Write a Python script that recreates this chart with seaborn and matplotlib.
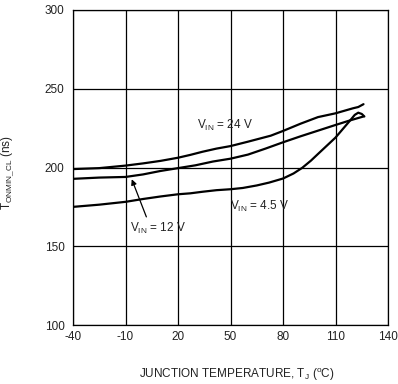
import matplotlib
matplotlib.use("Agg")
import matplotlib.pyplot as plt
import seaborn as sns
import pandas as pd

# Data
temp_24v = [-40, -25, -10, 0, 10, 20, 27, 34, 42, 50, 60, 73, 80, 90, 100, 110, 115, 120, 123, 126]
ton_24v = [199.0, 199.6, 201.2, 202.6, 204.2, 206.2, 208.0, 210.0, 212.0, 213.6, 216.4, 220.2, 223.2, 227.8, 232.0, 234.4, 236.0, 237.6, 238.4, 240.2]

temp_12v = [-40, -25, -10, 0, 10, 20, 30, 40, 50, 60, 70, 80, 90, 100, 110, 118, 126]
ton_12v = [192.8, 193.6, 194.0, 195.6, 197.8, 199.6, 201.4, 203.8, 205.6, 208.2, 212.0, 216.0, 219.8, 223.4, 227.0, 229.8, 232.4]

temp_45v = [-40, -25, -10, 0, 10, 20, 27, 34, 42, 50, 57, 65, 72, 80, 86, 91, 96, 100, 105, 110, 114, 118, 121, 123, 125, 126.5]
ton_45v = [175.0, 176.4, 178.2, 180.0, 181.6, 183.0, 183.6, 184.6, 185.6, 186.2, 187.0, 188.6, 190.4, 193.0, 196.2, 199.8, 204.4, 208.6, 213.8, 219.0, 224.2, 229.4, 233.4, 234.8, 234.0, 232.4]

series_labels = ["24 V", "12 V", "4.5 V"]
x_ticks = [-40, -10, 20, 50, 80, 110, 140]
y_ticks = [100, 150, 200, 250, 300]

df = pd.concat([
    pd.DataFrame({"T": temp_24v, "Ton": ton_24v, "VIN": series_labels[0]}),
    pd.DataFrame({"T": temp_12v, "Ton": ton_12v, "VIN": series_labels[1]}),
    pd.DataFrame({"T": temp_45v, "Ton": ton_45v, "VIN": series_labels[2]}),
], ignore_index=True)

sns.set_theme(style="white")
plt.rcParams["font.family"] = ["Liberation Sans", "DejaVu Sans"]
plt.rcParams["mathtext.fontset"] = "custom"
plt.rcParams["mathtext.rm"] = "Liberation Sans"
plt.rcParams["mathtext.it"] = "Liberation Sans"

fig = plt.figure(figsize=(3.98, 3.84), dpi=100)
ax = fig.add_axes([73 / 398, 1 - 325 / 384, 315 / 398, 315 / 384])

sns.lineplot(data=df, x="T", y="Ton", hue="VIN", palette=["black"] * 3,
             sort=False, estimator=None, linewidth=1.6, legend=False, ax=ax)

ax.set_xlim(-40, 140)
ax.set_ylim(100, 300)
ax.set_xticks(x_ticks)
ax.set_yticks(y_ticks)
ax.set_xticklabels([str(v) for v in x_ticks])
ax.set_yticklabels([str(v) for v in y_ticks])
ax.tick_params(axis="both", length=0, labelsize=8.5, colors="#222222")
ax.tick_params(axis="x", pad=4)
ax.tick_params(axis="y", pad=6)
ax.grid(True, color="black", linewidth=0.9)
for s in ax.spines.values():
    s.set_visible(True)
    s.set_color("black")
    s.set_linewidth(0.9)

ax.set_xlabel(r"JUNCTION TEMPERATURE, T$_\mathregular{J}$ ($^\mathregular{o}$C)",
              fontsize=8.5, color="#222222")
ax.xaxis.set_label_coords((237 - 73) / 315, -0.13)
ax.set_ylabel(r"T$_\mathregular{ONMIN\_CL}$ (ns)", fontsize=8.5, color="#222222")
ax.yaxis.set_label_coords(-(73 - 16) / 315, (325 - 173) / 315)

ax.text(31, 227, r"V$_\mathregular{IN}$ = 24 V", fontsize=8.5, va="center", ha="left", color="#222222")
ax.text(49.5, 175, r"V$_\mathregular{IN}$ = 4.5 V", fontsize=8.5, va="center", ha="left", color="#222222")
ax.text(-7.5, 161, r"V$_\mathregular{IN}$ = 12 V", fontsize=8.5, va="center", ha="left", color="#222222")
ax.annotate("", xy=(-7, 194.2), xytext=(2.5, 167),
            arrowprops=dict(arrowstyle="-|>", color="black", lw=0.9, mutation_scale=8))

fig.savefig("out.png", dpi=100)
